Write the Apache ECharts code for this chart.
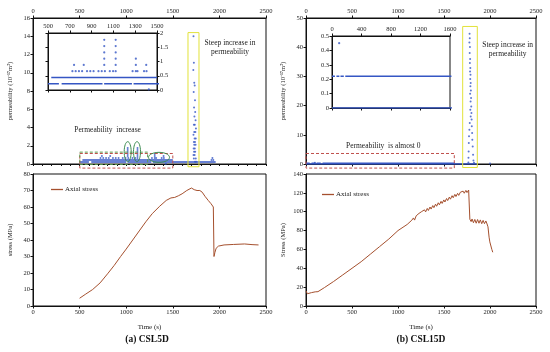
<!DOCTYPE html>
<html><head><meta charset="utf-8">
<script src="https://cdn.jsdelivr.net/npm/echarts@6/dist/echarts.min.js"></script>
<style>html,body{margin:0;padding:0;background:#fff}#c{width:550px;height:352px}</style>
</head><body><div id="c"></div>
<script>
// ---------- axis ranges / tick steps ----------
const timeMax = 2500, timeStep = 500;
const permAMax = 16, permAStep = 2;
const permBMax = 50, permBStep = 10;
const insetAMin = 500, insetAMax = 1500, insetAStep = 200, insetAYMax = 2, insetAYStep = 0.5;
const insetBMax = 1600, insetBStep = 400, insetBYMax = 0.5, insetBYStep = 0.1;
const stressAMax = 80, stressAStep = 10;
const stressBMax = 140, stressBStep = 20;

// ---------- (a) CSL5D permeability ----------
// dense rows of points: level and [start,end] time runs
const permA_level1 = 0.22;
const permA_runs1 = [[500,600],[625,1000],[1015,1270],[1285,1960]];
const permA_level2 = 0.44;
const permA_runs2 = [[530,1500]];
// individual points [time, permeability]
const permA_points = [
  [724,0.66],[754,0.66],[784,0.66],[813,0.66],[858,0.66],[888,0.66],[918,0.66],[963,0.66],[993,0.66],
  [1022,0.66],[1067,0.66],[1097,0.66],[1121,0.66],[1276,0.66],[1306,0.66],[1321,0.66],[1381,0.66],[1404,0.66],
  [739,0.88],[828,0.88],[1016,0.88],[1121,0.88],[1306,0.88],[1401,0.88],
  [1016,1.1],[1121,1.1],[1306,1.1],[1016,1.32],[1121,1.32],[1016,1.54],[1121,1.54],[1016,1.76],[1121,1.76],
  [1425,0.02],[1915,0.44],[1925,0.66],[1935,0.44],
  [1722,14.0],[1726,11.1],[1720,10.3],[1730,8.9],[1735,8.6],[1724,7.9],[1738,7.0],[1728,6.2],[1740,5.7],
  [1732,5.2],[1744,4.8],[1726,4.3],[1736,4.3],[1748,3.9],[1730,3.5],[1742,3.5],[1722,3.2],[1734,2.8],
  [1746,2.8],[1726,2.4],[1738,2.4],[1730,2.1],[1744,2.1],[1724,1.7],[1736,1.7],[1728,1.35],[1740,1.35],
  [1722,1.0],[1734,1.0],[1746,0.6],[1726,0.6],[1738,0.25],[1750,0.25]
];
// ---------- (a) CSL5D axial stress [time, MPa] ----------
const stressA = [
  [500,4.7],[560,7],[640,10],[720,14],[800,19.5],[870,24.5],[940,30],[1000,34.5],[1070,40],[1140,45.5],
  [1210,51],[1280,56],[1360,60.5],[1430,64],[1480,65.5],[1520,65.8],[1560,66.8],[1600,68],[1650,70],
  [1700,71.5],[1730,70.5],[1760,70],[1790,70],[1815,69],[1845,66.5],[1880,64],[1910,62],[1935,60],
  [1942,30],[1952,32.5],[1965,35],[1990,36.3],[2050,37],[2150,37.3],[2270,37.6],[2350,37.2],[2420,37]
];

// ---------- (b) CSL15D permeability ----------
const permB_level0 = 0;
const permB_runs0 = [[0,1860]];
const permB_level1 = 0.22;
const permB_runs1 = [[0,40],[60,100],[115,160],[180,1620]];
const permB_points = [
  [97,0.45],
  [1778,44.6],[1780,43.1],[1776,41.6],[1782,40.1],[1779,38],[1784,36],[1781,34.6],[1786,32.9],[1783,31.7],
  [1788,30.6],[1785,29.1],[1790,27.7],[1787,26.6],[1792,25.2],[1784,24.1],[1794,22.6],[1789,21.4],[1796,19.7],
  [1786,18.6],[1798,17.5],[1790,16.3],[1800,15.2],[1780,14],[1802,12.9],[1776,11.7],[1806,10.6],[1772,9.5],
  [1808,8.3],[1770,7.2],[1812,6],[1768,4.3],[1816,3.2],[1766,2.1],[1820,1.2],[1765,0.5],[1826,0.4],[2000,0.2]
];
// ---------- (b) CSL15D axial stress [time, MPa] ----------
const stressB = [
  [0,16],[15,13],[35,12.5],[60,14.2],[100,15],[130,15.2],[200,19.5],[300,26],[400,33],[500,40],[600,47],
  [700,55],[800,63],[900,71],[1000,80],[1100,86.5],[1150,91],[1168,93.4],[1180,91.1],[1198,95.7],[1210,93.6],
  [1228,98.2],[1240,96.1],[1258,100.2],[1270,98.3],[1288,102],[1300,99.8],[1318,103.5],[1330,101.3],[1348,105],
  [1360,102.8],[1378,106.5],[1390,104.3],[1408,108],[1420,105.8],[1438,109.5],[1450,107.3],[1468,111],
  [1480,108.8],[1498,112.5],[1510,110.3],[1528,114],[1540,111.8],[1558,115.5],[1570,113.3],[1588,117],
  [1600,114.8],[1618,118.4],[1630,116.1],[1648,119.5],[1660,117.3],[1678,120.7],[1690,118.6],[1708,121.8],
  [1720,119.6],[1738,122.6],[1750,120.3],[1768,123],[1778,121.5],[1781,92],[1795,89.5],[1805,92.3],[1820,88.3],
  [1835,91.8],[1850,87.8],[1865,91.7],[1880,87.8],[1895,91.3],[1910,87.3],[1925,90.8],[1940,87.3],[1955,90.2],
  [1968,87],[1978,84],[1990,73],[1998,68],[2010,66],[2020,60],[2030,57]
];

// ---------- annotations (data coordinates) ----------
const boxA_yellow = [1663,1781,-0.3,14.4];
const boxA_red = [502,1500,-0.45,1.15];
const boxA_green = [502,1230,-0.05,1.3];
const ellipsesA = [[1016,1.35],[1116,1.35],[1352,0.73]];
const textA1 = [800,3.7,'Permeability  increase'];
const textA2 = [2114,12.8,'Steep increase in\npermeability'];
const boxB_yellow = [1703,1862,-1.2,47.1];
const boxB_red = [0,1612,-1.4,3.6];
const textB1 = [840,6.0,'Permeability  is almost 0'];
const textB2 = [2192,39.2,'Steep increase in\npermeability'];

const FONT = '"Liberation Serif","Times New Roman",serif';
const BLUE = '#3556c4';
const BROWN = '#a5502e';
const TXT = '#222';

const chart = echarts.init(document.getElementById('c'), null, {renderer:'canvas'});

const grids = [
  {left:33, top:18, width:233, height:146},   // 0 (a) top
  {left:48, top:33, width:109, height:57},    // 1 (a) inset
  {left:33, top:174, width:233, height:132},  // 2 (a) bottom
  {left:306, top:18, width:230, height:146},  // 3 (b) top
  {left:332, top:36, width:118, height:72},   // 4 (b) inset
  {left:306, top:174, width:230, height:132}  // 5 (b) bottom
].map(g => Object.assign({show:true, borderColor:'#111', borderWidth:1, backgroundColor:'#fff', containLabel:false}, g));

const plainFmt = v => String(+v.toFixed(4));
function xAx(grid, pos, min, max, step, labels, extra) {
  return Object.assign({
    type:'value', gridIndex:grid, position:pos, min:min, max:max, interval:step,
    axisLine:{show:true, onZero:false, lineStyle:{color:'#111', width:1}},
    axisTick:{show:true, length:2.5, lineStyle:{color:'#111'}},
    axisLabel:{show:labels, fontSize:6.5, fontFamily:FONT, color:TXT, margin:3, formatter:plainFmt},
    splitLine:{show:false}
  }, extra || {});
}
function yAx(grid, pos, min, max, step, labels, extra) {
  return Object.assign({
    type:'value', gridIndex:grid, position:pos, min:min, max:max, interval:step,
    axisLine:{show:true, onZero:false, lineStyle:{color:'#111', width:1}},
    axisTick:{show:true, length:2.5, lineStyle:{color:'#111'}},
    axisLabel:{show:labels, fontSize:6.5, fontFamily:FONT, color:TXT, margin:3, formatter:plainFmt},
    splitLine:{show:false}
  }, extra || {});
}
const nameStyle = {fontSize:6.5, fontFamily:FONT, color:TXT};
const xAxes = [
  xAx(0,'top',0,timeMax,timeStep,true),
  xAx(0,'bottom',0,timeMax,100,false,{axisTick:{show:true,length:2,lineStyle:{color:'#111'}}}),
  xAx(1,'top',insetAMin,insetAMax,insetAStep,true),
  xAx(1,'bottom',insetAMin,insetAMax,insetAStep,false),
  xAx(2,'bottom',0,timeMax,timeStep,true,{name:'Time (s)', nameLocation:'middle', nameGap:18, nameTextStyle:{fontSize:7,fontFamily:FONT,color:TXT}}),
  xAx(3,'top',0,timeMax,timeStep,true),
  xAx(3,'bottom',0,timeMax,timeStep,false),
  xAx(4,'top',0,insetBMax,insetBStep,true),
  xAx(4,'bottom',0,insetBMax,insetBStep,false),
  xAx(5,'bottom',0,timeMax,timeStep,true,{name:'Time (s)', nameLocation:'middle', nameGap:18, nameTextStyle:{fontSize:7,fontFamily:FONT,color:TXT}})
];
const yAxes = [
  yAx(0,'left',0,permAMax,permAStep,true,{name:'permeability (10\u207B\u00B9\u2077m\u00B2)', nameLocation:'middle', nameGap:19, nameTextStyle:nameStyle}),
  yAx(1,'right',0,insetAYMax,insetAYStep,true),
  yAx(1,'left',0,insetAYMax,insetAYStep,false),
  yAx(2,'left',0,stressAMax,stressAStep,true,{name:'stress (MPa)', nameLocation:'middle', nameGap:19, nameTextStyle:nameStyle}),
  yAx(3,'left',0,permBMax,permBStep,true,{name:'permeability (10\u207B\u00B9\u2077m\u00B2)', nameLocation:'middle', nameGap:19, nameTextStyle:nameStyle}),
  yAx(4,'left',0,insetBYMax,insetBYStep,true),
  yAx(5,'left',0,stressBMax,stressBStep,true,{name:'Stress (MPa)', nameLocation:'middle', nameGap:19, nameTextStyle:nameStyle})
];

function rowSeries(runs, level, xi, yi, width) {
  return runs.map(r => ({
    type:'line', xAxisIndex:xi, yAxisIndex:yi, data:[[r[0],level],[r[1],level]],
    symbol:'none', lineStyle:{color:BLUE, width:width}, silent:true, clip:true, z:3
  }));
}
function ptSeries(pts, xi, yi, size) {
  return {type:'scatter', xAxisIndex:xi, yAxisIndex:yi, data:pts, symbol:'circle', symbolSize:size,
    itemStyle:{color:BLUE}, clip:true, silent:true, z:4};
}
const series = [].concat(
  rowSeries(permA_runs1, permA_level1, 0, 0, 1.5),
  rowSeries(permA_runs2, permA_level2, 0, 0, 1.5),
  [ptSeries(permA_points, 0, 0, 2)],
  rowSeries(permA_runs1, permA_level1, 2, 1, 1.5),
  rowSeries(permA_runs2, permA_level2, 2, 1, 1.5),
  [ptSeries(permA_points, 2, 1, 2.2)],
  [{type:'line', name:'Axial stress', xAxisIndex:4, yAxisIndex:3, data:stressA, symbol:'none',
    lineStyle:{color:BROWN, width:1}, itemStyle:{color:BROWN}, z:3}],
  rowSeries(permB_runs0, permB_level0, 5, 4, 1.5),
  rowSeries(permB_runs1, permB_level1, 5, 4, 1.5),
  [ptSeries(permB_points, 5, 4, 2)],
  rowSeries(permB_runs0, permB_level0, 7, 5, 1.5),
  rowSeries(permB_runs1, permB_level1, 7, 5, 1.5),
  [ptSeries(permB_points, 7, 5, 2.2)],
  [{type:'line', name:'Axial stress', xAxisIndex:9, yAxisIndex:6, data:stressB, symbol:'none',
    lineStyle:{color:BROWN, width:1}, itemStyle:{color:BROWN}, z:3}]
);

const legendBase = {data:[{name:'Axial stress', icon:'rect'}], orient:'horizontal', itemWidth:12, itemHeight:1.3, itemGap:4,
  itemStyle:{color:BROWN}, textStyle:{fontSize:7, fontFamily:FONT, color:TXT, padding:[0,0,0,-3]}, selectedMode:false, padding:0};

chart.setOption({
  animation:false,
  backgroundColor:'#fff',
  grid:grids, xAxis:xAxes, yAxis:yAxes, series:series,
  legend:[Object.assign({left:51, top:186}, legendBase), Object.assign({left:322, top:191}, legendBase)]
});

// ---------- annotations ----------
function px(xi, yi, p) { return chart.convertToPixel({xAxisIndex:xi, yAxisIndex:yi}, p); }
function rectFrom(xi, yi, b, color, dashed) {
  const p1 = px(xi, yi, [b[0], b[3]]), p2 = px(xi, yi, [b[1], b[2]]);
  return {type:'rect', shape:{x:p1[0], y:p1[1], width:p2[0]-p1[0], height:p2[1]-p1[1]},
    style:{fill:null, stroke:color, lineWidth:1, lineDash:dashed ? [3,2] : null}, z:100, silent:true};
}
function textAt(xi, yi, t) {
  const p = px(xi, yi, [t[0], t[1]]);
  return {type:'text', x:p[0], y:p[1], style:{text:t[2], fontSize:7.5, fontFamily:FONT, fill:TXT,
    align:'center', verticalAlign:'middle', lineHeight:9}, z:100, silent:true};
}
const ellRadii = [[3.5,10],[3.5,10],[10.5,5]];
const graphics = [
  rectFrom(0,0,boxA_yellow,'#e2e23a',false),
  rectFrom(0,0,boxA_red,'#c0504d',true),
  rectFrom(0,0,boxA_green,'#5b9b4f',true),
  textAt(0,0,textA1), textAt(0,0,textA2),
  rectFrom(5,4,boxB_yellow,'#e2e23a',false),
  rectFrom(5,4,boxB_red,'#c0504d',true),
  textAt(5,4,textB1), textAt(5,4,textB2),
  {type:'text', x:147, y:340, style:{text:'(a) CSL5D', fontSize:9.5, fontWeight:'bold', fontFamily:FONT, fill:'#111', align:'center', verticalAlign:'middle'}},
  {type:'text', x:421, y:340, style:{text:'(b) CSL15D', fontSize:9.5, fontWeight:'bold', fontFamily:FONT, fill:'#111', align:'center', verticalAlign:'middle'}}
];
ellipsesA.forEach((e, i) => {
  const p = px(0, 0, e);
  graphics.push({type:'ellipse', shape:{cx:p[0], cy:p[1], rx:ellRadii[i][0], ry:ellRadii[i][1]},
    style:{fill:null, stroke:'#3c8c50', lineWidth:1}, z:100, silent:true});
});
chart.setOption({graphic:graphics});
</script>
</body></html>
